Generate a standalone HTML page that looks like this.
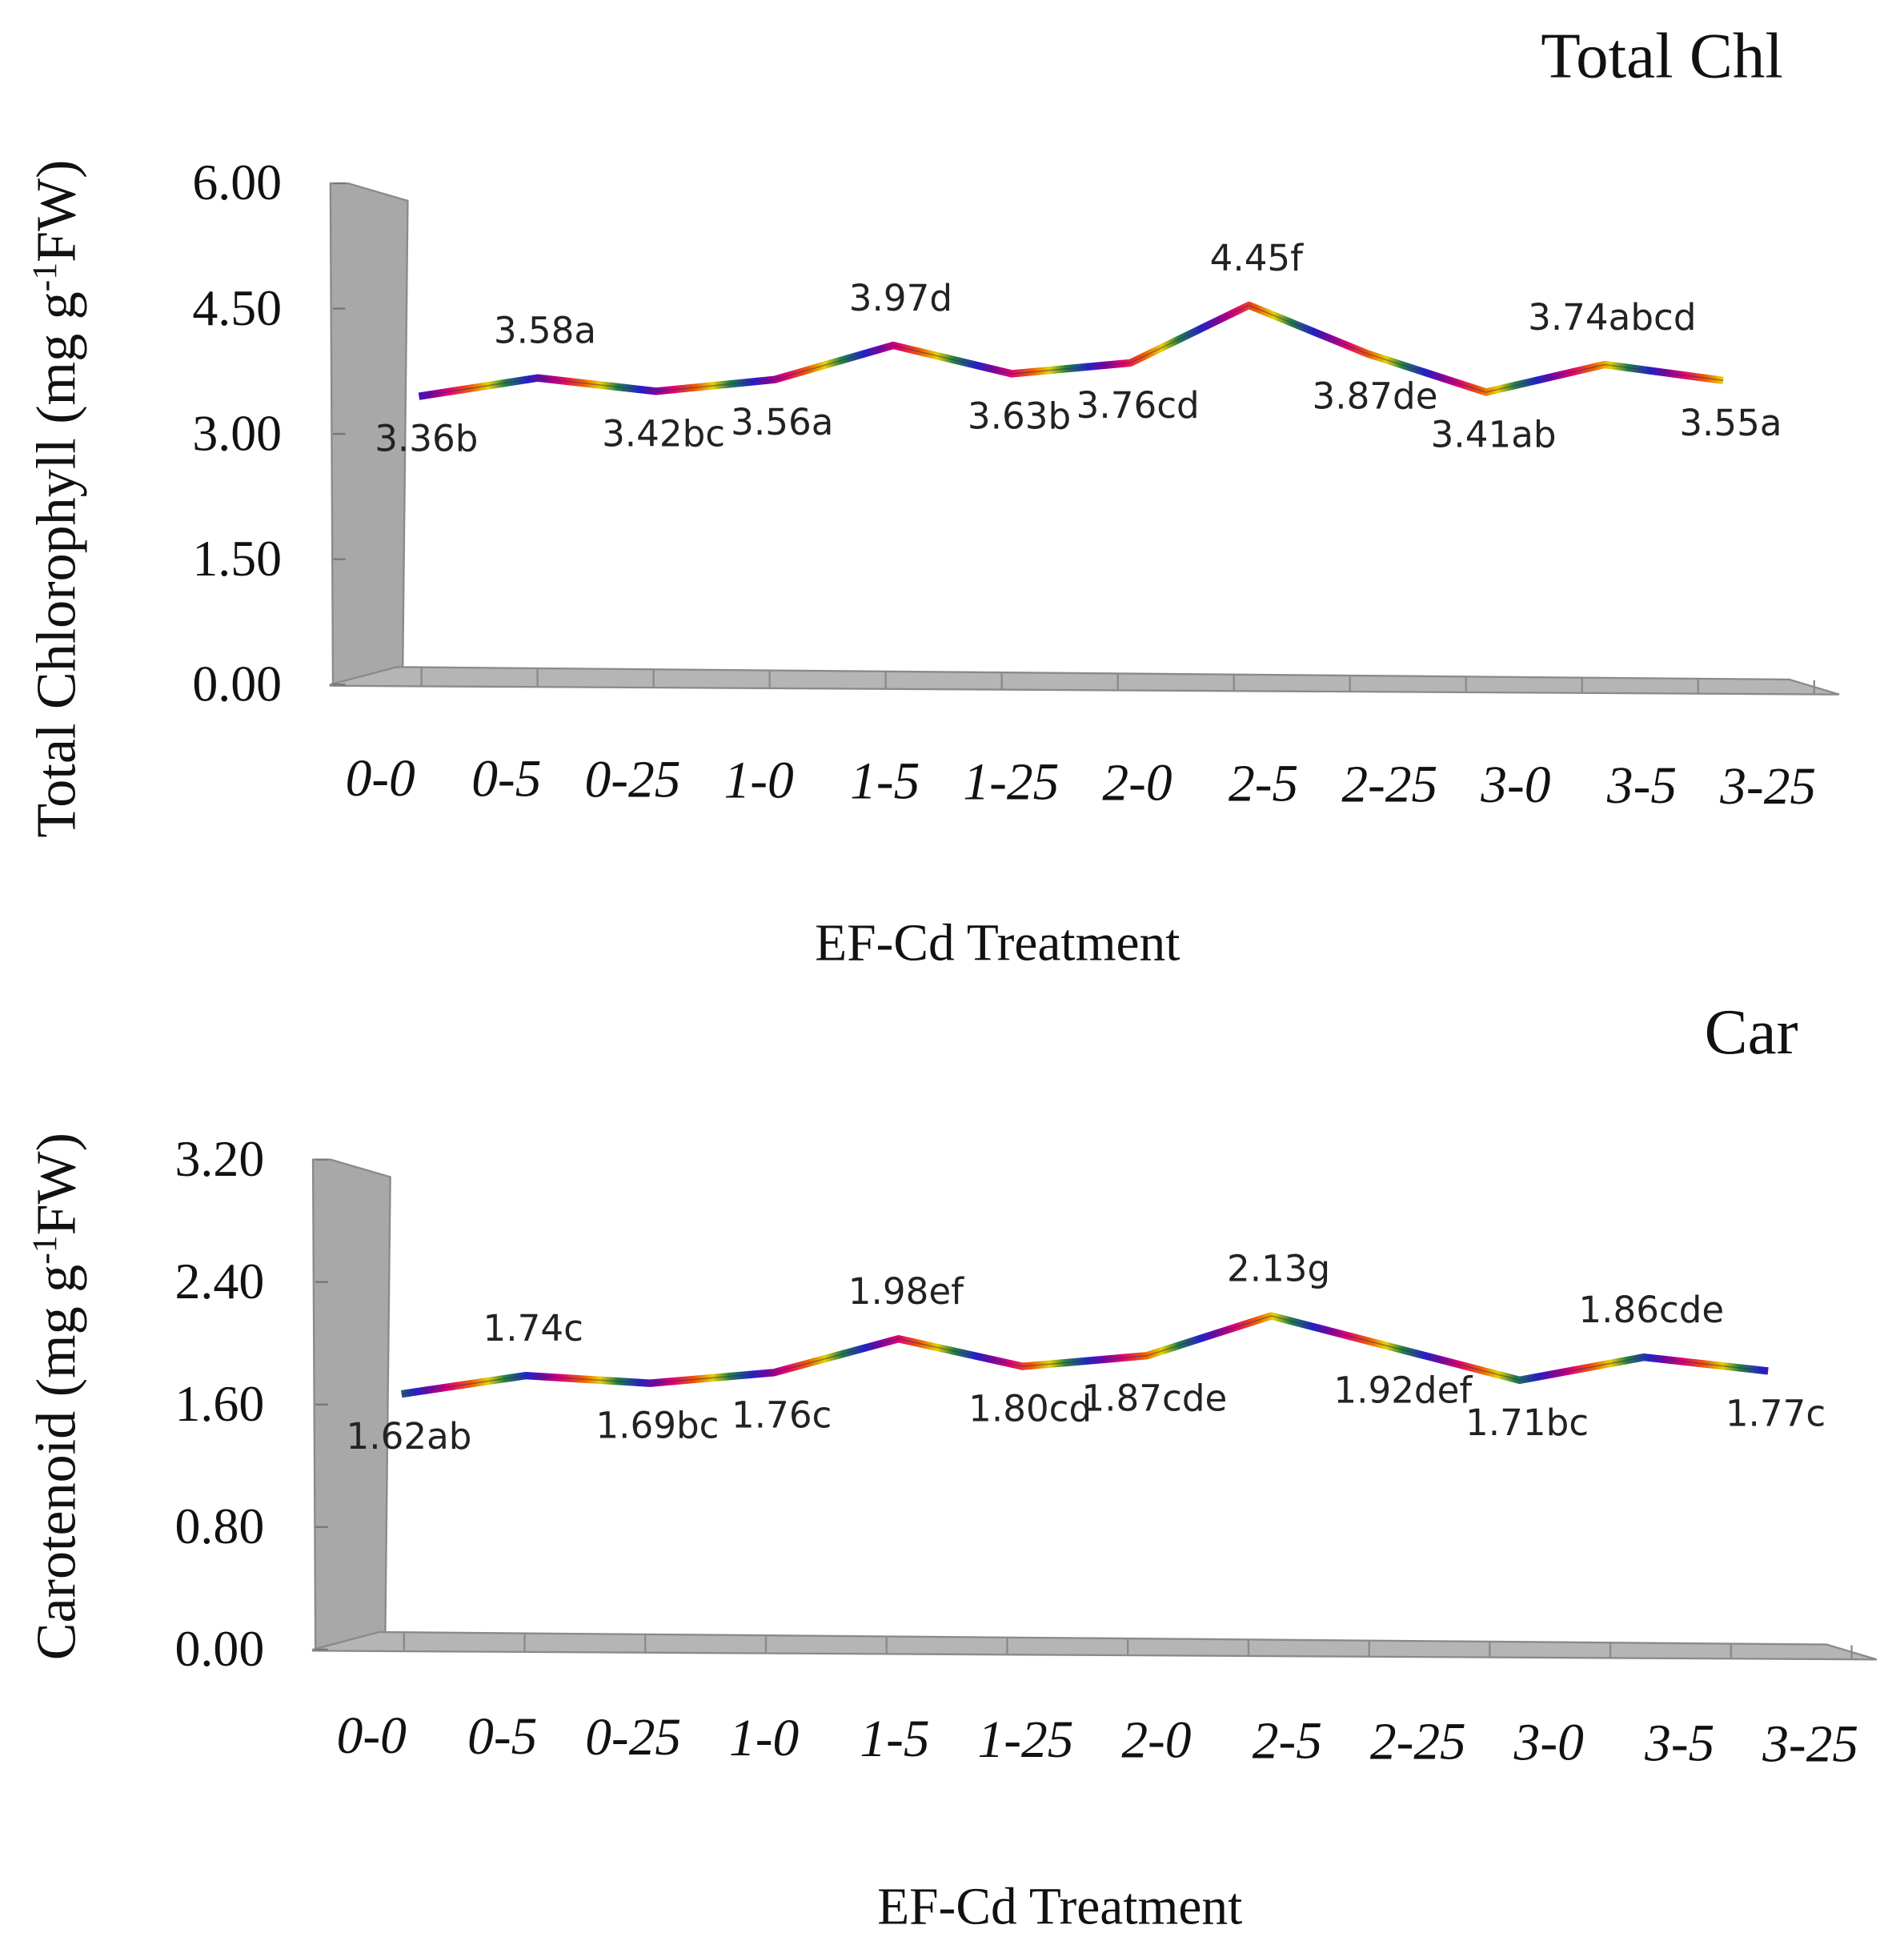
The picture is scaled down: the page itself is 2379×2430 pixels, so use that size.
<!DOCTYPE html>
<html><head><meta charset="utf-8"><style>
html,body{margin:0;padding:0;background:#fff;}
svg{display:block;}
</style></head><body>
<svg id="chart" width="2379" height="2430" viewBox="0 0 1527 1560" preserveAspectRatio="none" xmlns="http://www.w3.org/2000/svg">
<defs>
<linearGradient id="rb" gradientUnits="userSpaceOnUse" x1="0" y1="0" x2="90" y2="0" spreadMethod="repeat">
<stop offset="0" stop-color="#e00070"/><stop offset="0.2" stop-color="#f06000"/><stop offset="0.35" stop-color="#e8d000"/><stop offset="0.5" stop-color="#208040"/><stop offset="0.7" stop-color="#2020d0"/><stop offset="0.85" stop-color="#8000a0"/><stop offset="1" stop-color="#e00070"/>
</linearGradient>
</defs>
</svg>
<script>
const categories = ["0-0","0-5","0-25","1-0","1-5","1-25","2-0","2-5","2-25","3-0","3-5","3-25"];
const chlValues = [3.36,3.58,3.42,3.56,3.97,3.63,3.76,4.45,3.87,3.41,3.74,3.55];
const chlLetters = ["b","a","bc","a","d","b","cd","f","de","ab","abcd","a"];
const chlSide = ["below","above","below","below","above","below","below","above","below","below","above","below"];
const chlTicks = ["0.00","1.50","3.00","4.50","6.00"];
const carValues = [1.62,1.74,1.69,1.76,1.98,1.80,1.87,2.13,1.92,1.71,1.86,1.77];
const carLetters = ["ab","c","bc","c","ef","cd","cde","g","def","bc","cde","c"];
const carSide = ["below","above","below","below","above","below","below","above","below","below","above","below"];
const carTicks = ["0.00","0.80","1.60","2.40","3.20"];

const NS = "http://www.w3.org/2000/svg";
const svg = document.getElementById("chart");
function mk(tag, attrs, parent){
  const e = document.createElementNS(NS, tag);
  for (const k in attrs) e.setAttribute(k, attrs[k]);
  (parent||svg).appendChild(e);
  return e;
}
function drawPanel(p){
  const g = mk("g", {});
  
  
  const y = v => p.y0 - (v - p.tmin) / (p.tmax - p.tmin) * (p.y0 - p.yTop);
  const yl = v => y(v) - 6;
  const x = i => p.xFirst + i * (p.xLast - p.xFirst) / (categories.length - 1);
  const wall = mk("polygon", {points:`${p.wx},${p.yTop} ${p.wx+14},${p.yTop} ${p.wx+62},${p.yTop+14} ${p.wx+58},${p.y0-14} ${p.wx+2},${p.y0}`, fill:"#a8a8a8", stroke:"#8a8a8a", "stroke-width":1.5}, g);
  
  
  const floor = mk("polygon", {points:`${p.wx},${p.y0} ${p.wx+53},${p.y0-14} ${p.fx-40},${p.y0-4} ${p.fx},${p.y0+8} ${p.wx},${p.y0+1}`, fill:"#b5b5b5", stroke:"#8a8a8a", "stroke-width":1.5}, g);
  
  
  for (let i = 0; i <= categories.length; i++) {
    const tx = p.wx + 53 + i * (p.fx - 40 - p.wx - 53) / categories.length + 20;
    mk("line", {x1:tx, y1:p.y0 - 13 + i*0.8, x2:tx, y2:p.y0 + 1 + i*0.6, stroke:"#8a8a8a", "stroke-width":1.5}, g);
  }
  p.ticks.forEach((t, i) => {
    const v = p.tmin + i * (p.tmax - p.tmin) / (p.ticks.length - 1);
    const yy = y(v);
    mk("line", {x1:p.wx+2, y1:yy, x2:p.wx+12, y2:yy, stroke:"#777", "stroke-width":1.5}, g);
    const tl = mk("text", {x:p.tickX, y:yy+13, "text-anchor":"end", "font-family":"Liberation Serif, serif", "font-size":41, fill:"#111"}, g);
    tl.textContent = t;
    
    
  });
  const pts = p.values.map((v, i) => `${x(i)},${yl(v)}`).join(" ");
  const line = mk("polyline", {points:pts, fill:"none", stroke:"url(#rb)", "stroke-width":6, "stroke-linejoin":"round"}, g);
  
  
  mk("polyline", {points:pts, fill:"none", stroke:"#3a2a60", "stroke-width":1, opacity:0.5}, g);
  p.values.forEach((v, i) => {
    const above = p.side[i] === "above";
    const t = mk("text", {x:x(i)+6, y: above ? yl(v)-28 : yl(v)+44, "text-anchor":"middle", "font-family":"DejaVu Sans, sans-serif", "font-size":29, fill:"#222"}, g);
    t.textContent = v.toFixed(2) + p.letters[i];
    
    
  });
  categories.forEach((c, i) => {
    const t = mk("text", {x: p.catX0 + i * (p.catX1 - p.catX0) / 11, y: p.catY + i*0.6, "text-anchor":"middle", "font-family":"Liberation Serif, serif", "font-style":"italic", "font-size":42, fill:"#111"}, g);
    t.textContent = c;
    
    
  });
  const tt = mk("text", {x:p.titleX, y:p.titleY, "text-anchor":"end", "font-family":"Liberation Serif, serif", "font-size":52, fill:"#111"}, g);
  tt.textContent = p.title;
  
  
  const xt = mk("text", {x:p.xtX, y:p.xtY, "text-anchor":"middle", "font-family":"Liberation Serif, serif", "font-size":42, fill:"#111"}, g);
  xt.textContent = "EF-Cd Treatment";
  
  
  const yt = mk("text", {x:0, y:0, transform:`translate(60,${p.ytY}) rotate(-90)`, "text-anchor":"middle", "font-family":"Liberation Serif, serif", "font-size":45, fill:"#111"}, g);
  yt.innerHTML = p.ytPre + ' (mg g<tspan dy="-15" font-size="28">-1</tspan><tspan dy="15">FW)</tspan>';
  
  
}
drawPanel({name:"total-chl-panel", values:chlValues, letters:chlLetters, side:chlSide, ticks:chlTicks,
  tmin:0, tmax:6, y0:549, yTop:147, wx:265, fx:1475, tickX:226, xFirst:336, xLast:1382,
  catX0:305, catX1:1418, catY:638, title:"Total Chl", titleX:1430, titleY:62, xtX:800, xtY:770,
  ytY:400, ytPre:"Total Chlorophyll"});
drawPanel({name:"carotenoid-panel", values:carValues, letters:carLetters, side:carSide, ticks:carTicks,
  tmin:0, tmax:3.2, y0:1323, yTop:930, wx:251, fx:1505, tickX:212, xFirst:322, xLast:1418,
  catX0:298, catX1:1452, catY:1406, title:"Car", titleX:1442, titleY:845, xtX:850, xtY:1543,
  ytY:1120, ytPre:"Carotenoid"});
</script>
</body></html>
